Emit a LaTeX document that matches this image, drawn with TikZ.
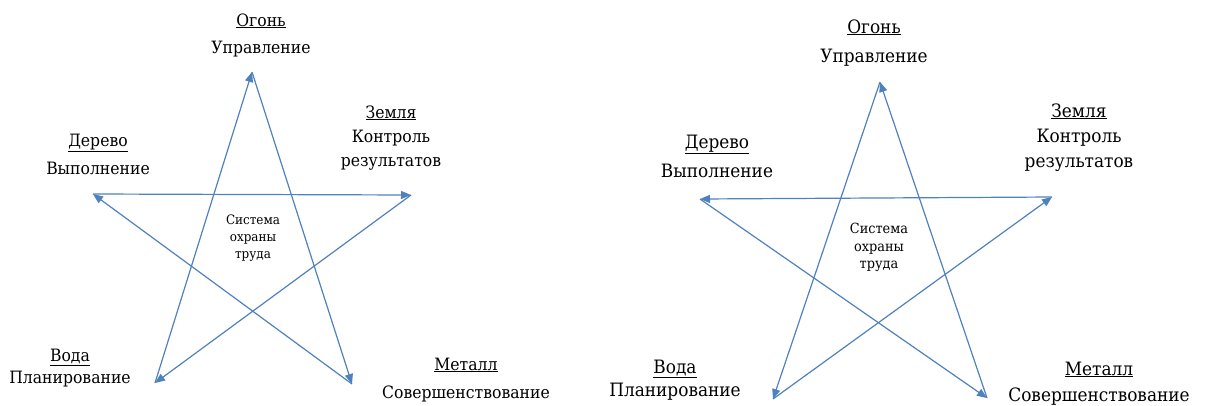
\documentclass[tikz,border=0pt]{standalone}
\usepackage{fontspec}
\setmainfont{DejaVu Serif}[FakeStretch=0.92]
\usetikzlibrary{arrows.meta}
\definecolor{lineblue}{HTML}{4F81BD}
\begin{document}
\begin{tikzpicture}[x=1pt,y=-1pt,
  edge/.style={draw=lineblue, line width=1.2pt, -{Triangle[length=10pt,width=8pt]}},
  lbl/.style={anchor=base, inner sep=0pt},
  lblA/.style={lbl, font=\fontsize{17}{21}\selectfont},
  lblB/.style={lbl, font=\fontsize{18.4}{22}\selectfont},
  cenA/.style={lbl, font=\fontsize{13}{16}\selectfont},
  cenB/.style={lbl, font=\fontsize{14}{17}\selectfont}]
\useasboundingbox (0,0) rectangle (1205,405);
% ---------- left star ----------
\coordinate (aT) at (252,72);
\coordinate (aL) at (93,194);
\coordinate (aR) at (411,195);
\coordinate (aBL) at (155,383);
\coordinate (aBR) at (352,384);
\draw[edge] (aL) -- (aR);
\draw[edge] (aR) -- (aBL);
\draw[edge] (aBL) -- (aT);
\draw[edge] (aT) -- (aBR);
\draw[edge] (aBR) -- (aL);
\node[lblA] (aFire) at (261,26) {\underline{Огонь}};
\node[lblA] (aFire2) at (261,53) {Управление};
\node[lblA] (aEarth) at (391,118) {\underline{Земля}};
\node[lblA] (aEarth2) at (391,142) {Контроль};
\node[lblA] (aEarth3) at (391,166) {результатов};
\node[lblA] (aWood) at (98,146) {\underline{Дерево}};
\node[lblA] (aWood2) at (98,174) {Выполнение};
\node[lblA] (aWater) at (70,361) {\underline{Вода}};
\node[lblA] (aWater2) at (70,383) {Планирование};
\node[lblA] (aMetal) at (466,370) {\underline{Металл}};
\node[lblA] (aMetal2) at (466,398) {Совершенствование};
\node[cenA] (aC1) at (253,224) {Система};
\node[cenA] (aC2) at (253,241) {охраны};
\node[cenA] (aC3) at (253,258) {труда};
% ---------- right star ----------
\coordinate (bT) at (880,82);
\coordinate (bL) at (700,199);
\coordinate (bR) at (1052,197);
\coordinate (bBL) at (773,399);
\coordinate (bBR) at (987,398);
\draw[edge] (bR) -- (bL);
\draw[edge] (bL) -- (bBR);
\draw[edge] (bBR) -- (bT);
\draw[edge] (bT) -- (bBL);
\draw[edge] (bBL) -- (bR);
\node[lblB] (bFire) at (874,33) {\underline{Огонь}};
\node[lblB] (bFire2) at (874,62) {Управление};
\node[lblB] (bEarth) at (1079,117) {\underline{Земля}};
\node[lblB] (bEarth2) at (1079,142) {Контроль};
\node[lblB] (bEarth3) at (1079,167) {результатов};
\node[lblB] (bWood) at (717,148) {\underline{Дерево}};
\node[lblB] (bWood2) at (717,177) {Выполнение};
\node[lblB] (bWater) at (675,373) {\underline{Вода}};
\node[lblB] (bWater2) at (675,396) {Планирование};
\node[lblB] (bMetal) at (1099,375) {\underline{Металл}};
\node[lblB] (bMetal2) at (1099,401) {Совершенствование};
\node[cenB] (bC1) at (879,233) {Система};
\node[cenB] (bC2) at (879,251) {охраны};
\node[cenB] (bC3) at (879,268) {труда};
\end{tikzpicture}
\end{document}
